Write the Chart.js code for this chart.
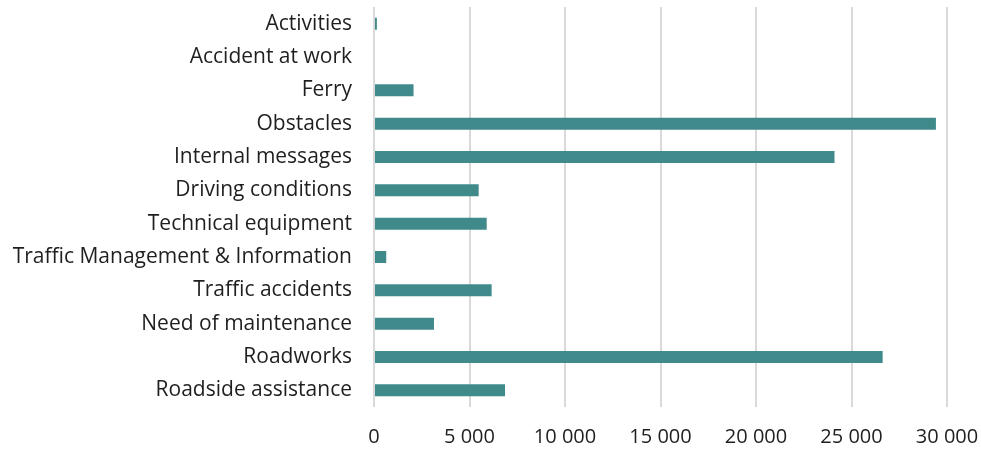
<!DOCTYPE html>
<html>
<head>
<meta charset="utf-8">
<script src="https://cdn.jsdelivr.net/npm/chart.js@4"></script>
<style>
  html, body { margin: 0; padding: 0; background: #fff; }
  #wrap { width: 981px; height: 452px; }
</style>
</head>
<body>
<div id="wrap"><canvas id="chart"></canvas></div>
<script>
const categories = [
  'Activities', 'Accident at work', 'Ferry', 'Obstacles', 'Internal messages',
  'Driving conditions', 'Technical equipment', 'Traffic Management & Information',
  'Traffic accidents', 'Need of maintenance', 'Roadworks', 'Roadside assistance'
];
const values = [150, 0, 2070, 29420, 24110, 5480, 5900, 640, 6160, 3140, 26630, 6860];
const xTicks = [0, 5000, 10000, 15000, 20000, 25000, 30000];

const fontFamily = '"Open Sans", Lato, sans-serif';

new Chart(document.getElementById('chart'), {
  type: 'bar',
  data: {
    labels: categories,
    datasets: [{
      data: values,
      backgroundColor: '#418a8c',
      barPercentage: 0.72,
      categoryPercentage: 0.5
    }]
  },
  options: {
    indexAxis: 'y',
    responsive: true,
    maintainAspectRatio: false,
    animation: false,
    layout: { padding: { top: 7, right: 34, bottom: 0, left: 0 } },
    plugins: { legend: { display: false }, tooltip: { enabled: false } },
    scales: {
      x: {
        min: 0,
        max: 30000,
        afterBuildTicks: (axis) => { axis.ticks = xTicks.map(v => ({ value: v })); },
        afterFit: (axis) => {
          // keep the plot edges where the reference has them
          axis.height = 45;
          axis.paddingLeft = 0;
          axis.paddingRight = 0;
        },
        grid: { color: '#d9d9d9', lineWidth: 2, drawTicks: false },
        border: { display: false },
        ticks: {
          padding: 18,
          color: '#1f1f1f',
          font: { family: fontFamily, size: 20 },
          callback: (v) => String(v).replace(/\B(?=(\d{3})+(?!\d))/g, ' ')
        }
      },
      y: {
        grid: { display: false },
        border: { display: false },
        afterFit: (axis) => {
          axis.width = 374;
          axis.paddingTop = 0;
          axis.paddingBottom = 0;
        },
        ticks: {
          padding: 14,
          color: '#1f1f1f',
          font: { family: fontFamily, size: 21 }
        }
      }
    }
  }
});
</script>
</body>
</html>
